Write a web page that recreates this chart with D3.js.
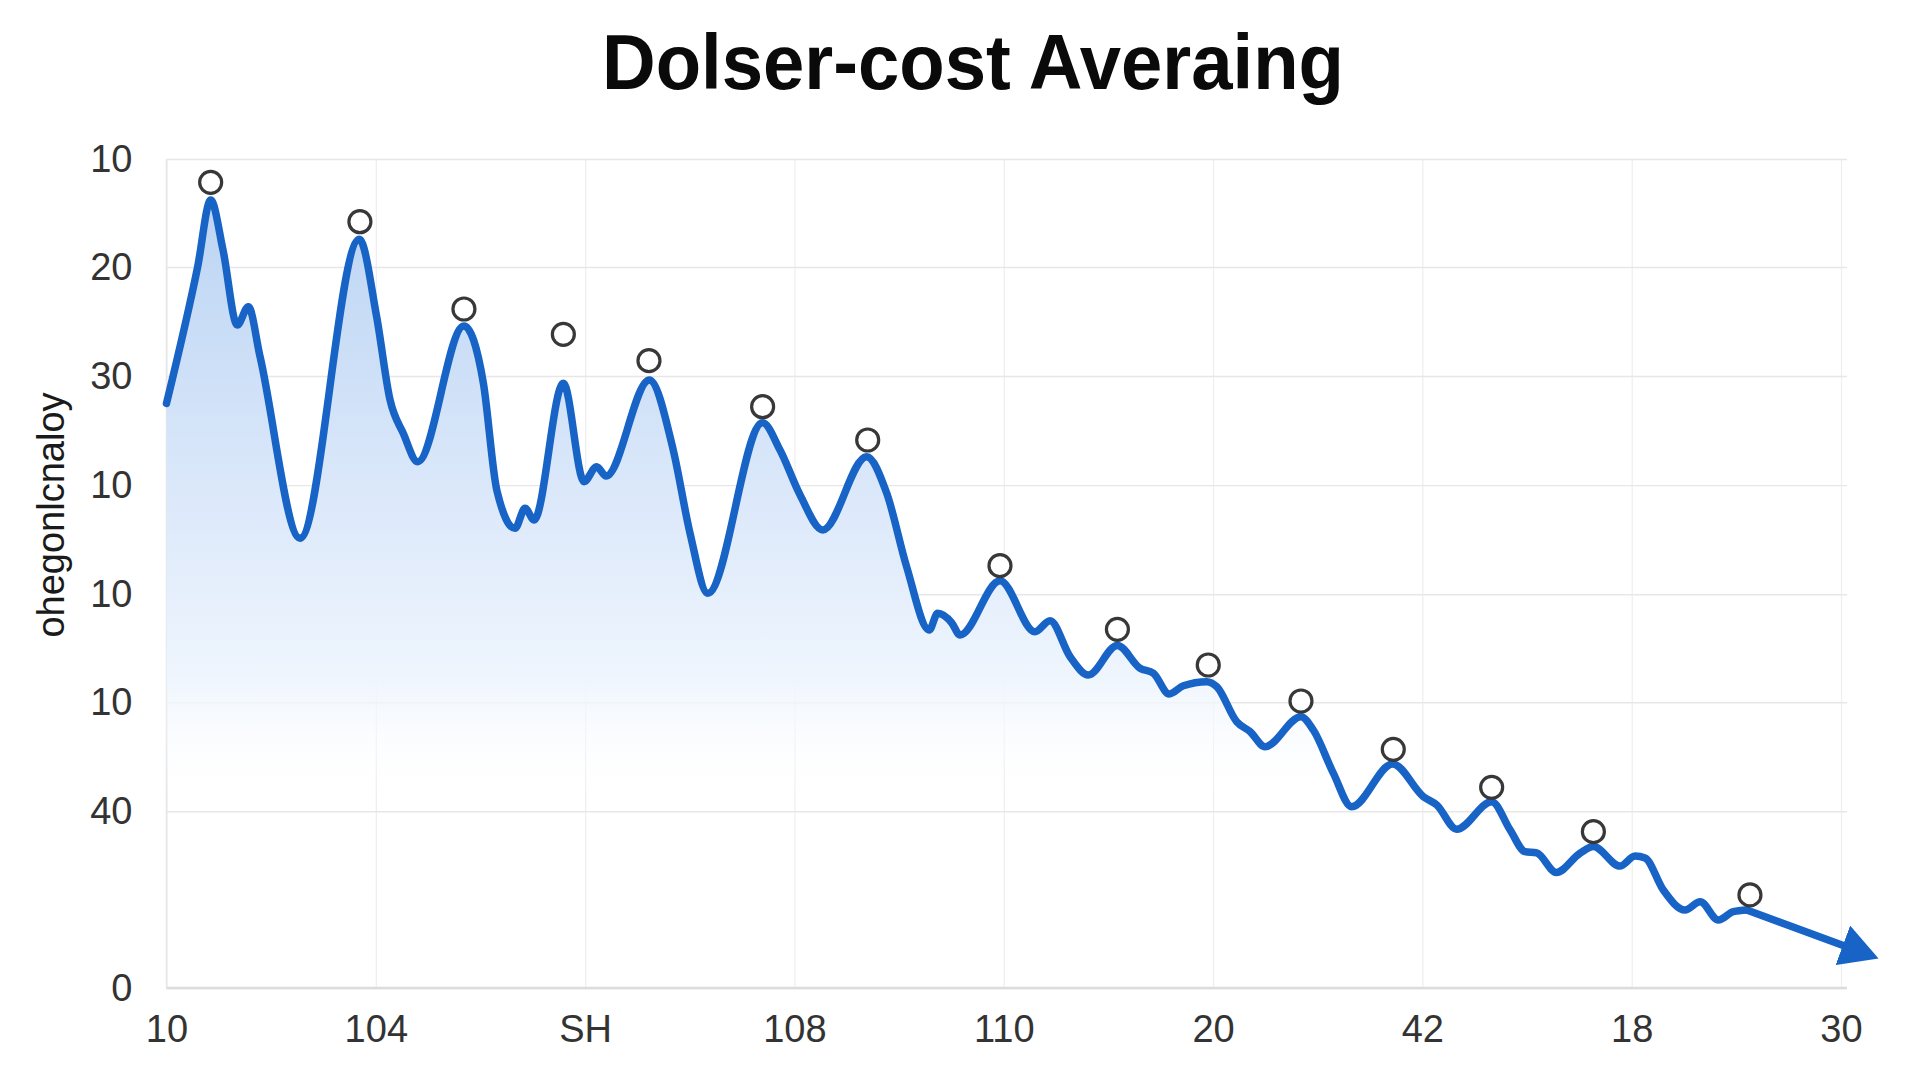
<!DOCTYPE html>
<html>
<head>
<meta charset="utf-8">
<script src="https://cdn.jsdelivr.net/npm/d3@7"></script>
<style>
  html, body { margin: 0; padding: 0; background: #ffffff; }
  svg { display: block; }
</style>
</head>
<body>
<svg id="chart" width="1920" height="1080"></svg>
<script>
// ---------------- data ----------------
const title = "Dolser-cost Averaing";
const yAxisTitle = "ohegonlcnaloy";

const xTickValues = [0, 1, 2, 3, 4, 5, 6, 7, 8];
const xTickLabels = ["10", "104", "SH", "108", "110", "20", "42", "18", "30"];

const yTickValues = [0, 16.2, 26.2, 36.1, 46.1, 56.1, 66.1, 76];
const yTickLabels = ["0", "40", "10", "10", "10", "30", "20", "10"];

// price line (x in axis units, y in axis units)
const lineX = [0, 0.149, 0.211, 0.270, 0.338, 0.391, 0.447, 0.638, 0.921, 1.004,
  1.068, 1.131, 1.200, 1.421, 1.514, 1.578, 1.665, 1.713, 1.756, 1.896,
  1.995, 2.055, 2.100, 2.307, 2.421, 2.501, 2.586, 2.848, 2.931, 3.027,
  3.135, 3.345, 3.441, 3.536, 3.644, 3.684, 3.751, 3.791, 3.982, 4.149,
  4.221, 4.317, 4.404, 4.543, 4.651, 4.715, 4.791, 4.858, 4.970, 5.018,
  5.113, 5.177, 5.248, 5.420, 5.479, 5.575, 5.662, 5.858, 6.005, 6.069,
  6.164, 6.331, 6.419, 6.490, 6.546, 6.640, 6.753, 6.817, 6.944, 7.016,
  7.064, 7.151, 7.255, 7.327, 7.414, 7.486, 7.550];
const lineY = [53.60, 66.13, 72.24, 67.66, 60.78, 62.46, 57.88, 41.23, 68.64, 61.54,
  53.91, 50.85, 48.25, 60.69, 55.44, 45.65, 42.14, 43.98, 42.91, 55.44,
  46.42, 47.79, 46.94, 55.74, 49.32, 41.71, 36.19, 51.83, 49.32, 45.20,
  41.99, 48.71, 45.35, 38.62, 32.82, 34.35, 33.49, 32.36, 37.34, 32.66,
  33.67, 30.37, 28.70, 31.40, 29.31, 28.85, 26.95, 27.71, 28.08, 27.62,
  24.41, 23.50, 22.12, 24.87, 23.65, 19.68, 16.62, 20.54, 17.54, 16.78,
  14.55, 17.08, 14.49, 12.50, 12.38, 10.59, 12.35, 12.97, 11.18, 12.10,
  11.92, 8.98, 7.15, 7.91, 6.23, 7.00, 7.15];

// straight trend arrow at the end of the line
const arrowX = [7.550, 8.027];
const arrowY = [7.15, 3.79];

// open circle markers above the peaks
const markerX = [0.211, 0.924, 1.421, 1.896, 2.305, 2.848, 3.350, 3.982, 4.543,
  4.977, 5.420, 5.861, 6.331, 6.817, 7.565];
const markerY = [73.86, 70.25, 62.25, 59.93, 57.51, 53.29, 50.24, 38.72, 32.88,
  29.61, 26.31, 21.88, 18.40, 14.33, 8.53];

// ---------------- layout ----------------
const W = 1920, H = 1080;
const plot = { left: 166.5, right: 1841, top: 159, bottom: 988 };
const gridRight = 1847;

const svg = d3.select("#chart");
svg.append("rect").attr("width", W).attr("height", H).attr("fill", "#ffffff");

const x = d3.scaleLinear().domain([0, 8]).range([plot.left, plot.right]);
const y = d3.scaleLinear().domain([0, 76]).range([plot.bottom, plot.top]);

const defs = svg.append("defs");
const grad = defs.append("linearGradient")
  .attr("id", "areaGrad")
  .attr("gradientUnits", "userSpaceOnUse")
  .attr("x1", 0).attr("x2", 0).attr("y1", 180).attr("y2", 800);
grad.append("stop").attr("offset", "0%").attr("stop-color", "#b9d3f3").attr("stop-opacity", 1);
grad.append("stop").attr("offset", "50%").attr("stop-color", "#dbe8fa").attr("stop-opacity", 1);
grad.append("stop").attr("offset", "80%").attr("stop-color", "#eef5fd").attr("stop-opacity", 1);
grad.append("stop").attr("offset", "100%").attr("stop-color", "#ffffff").attr("stop-opacity", 0);

const lineColor = "#1763c6";
defs.append("marker")
  .attr("id", "arrowHead")
  .attr("markerUnits", "userSpaceOnUse")
  .attr("viewBox", "0 0 38 42")
  .attr("refX", 4).attr("refY", 21)
  .attr("markerWidth", 38).attr("markerHeight", 42)
  .attr("orient", "auto")
  .append("path")
  .attr("d", "M0,0 L38,21 L0,42 Z")
  .attr("fill", lineColor);

// ---------------- grid + axes ----------------
const gx = svg.append("g")
  .attr("transform", `translate(0,${plot.bottom})`)
  .call(d3.axisBottom(x)
    .tickValues(xTickValues)
    .tickSize(-(plot.bottom - plot.top))
    .tickPadding(27)
    .tickFormat((d, i) => xTickLabels[i]));
gx.select(".domain").remove();
gx.selectAll(".tick line").attr("stroke", "#eeeeee").attr("stroke-width", 1.2);
gx.selectAll(".tick text")
  .attr("fill", "#333333")
  .style("font-family", "'Liberation Sans', Arial, sans-serif")
  .style("font-size", "38px");

const gy = svg.append("g")
  .attr("transform", `translate(${plot.left},0)`)
  .call(d3.axisLeft(y)
    .tickValues(yTickValues)
    .tickSize(-(gridRight - plot.left))
    .tickPadding(34)
    .tickFormat((d, i) => yTickLabels[i]));
gy.select(".domain").remove();
gy.selectAll(".tick line").attr("stroke", "#e7e7e7").attr("stroke-width", 1.4);
gy.selectAll(".tick text")
  .attr("fill", "#333333")
  .style("font-family", "'Liberation Sans', Arial, sans-serif")
  .style("font-size", "38px");

// left edge and baseline
svg.append("line")
  .attr("x1", plot.left).attr("x2", plot.left)
  .attr("y1", plot.top).attr("y2", plot.bottom)
  .attr("stroke", "#e6e6e6").attr("stroke-width", 1.5);
svg.append("line")
  .attr("x1", plot.left).attr("x2", gridRight)
  .attr("y1", plot.bottom).attr("y2", plot.bottom)
  .attr("stroke", "#dcdcdc").attr("stroke-width", 2.5);

// ---------------- series ----------------
const pts = lineX.map((d, i) => [d, lineY[i]]);

svg.append("path")
  .datum(pts)
  .attr("fill", "url(#areaGrad)")
  .attr("d", d3.area()
    .x(d => x(d[0]))
    .y0(y(0))
    .y1(d => y(d[1]))
    .curve(d3.curveMonotoneX));

svg.append("path")
  .datum(pts)
  .attr("fill", "none")
  .attr("stroke", lineColor)
  .attr("stroke-width", 7.5)
  .attr("stroke-linejoin", "round")
  .attr("stroke-linecap", "round")
  .attr("d", d3.line()
    .x(d => x(d[0]))
    .y(d => y(d[1]))
    .curve(d3.curveMonotoneX));

svg.append("path")
  .datum(arrowX.map((d, i) => [d, arrowY[i]]))
  .attr("fill", "none")
  .attr("stroke", lineColor)
  .attr("stroke-width", 7.5)
  .attr("stroke-linecap", "round")
  .attr("marker-end", "url(#arrowHead)")
  .attr("d", d3.line()
    .x(d => x(d[0]))
    .y(d => y(d[1])));

svg.append("g")
  .selectAll("circle")
  .data(markerX.map((d, i) => [d, markerY[i]]))
  .join("circle")
  .attr("cx", d => x(d[0]))
  .attr("cy", d => y(d[1]))
  .attr("r", 11)
  .attr("fill", "#ffffff")
  .attr("stroke", "#383838")
  .attr("stroke-width", 3.2);

// ---------------- text ----------------
svg.append("text")
  .attr("x", 973).attr("y", 89)
  .attr("text-anchor", "middle")
  .attr("textLength", 742)
  .attr("lengthAdjust", "spacingAndGlyphs")
  .attr("fill", "#0a0a0a")
  .style("font-family", "'Liberation Sans', Arial, sans-serif")
  .style("font-weight", "bold")
  .style("font-size", "77px")
  .text(title);

svg.append("text")
  .attr("transform", "translate(64,515) rotate(-90)")
  .attr("text-anchor", "middle")
  .attr("fill", "#1a1a1a")
  .style("font-family", "'Liberation Sans', Arial, sans-serif")
  .style("font-size", "38px")
  .text(yAxisTitle);
</script>
</body>
</html>
